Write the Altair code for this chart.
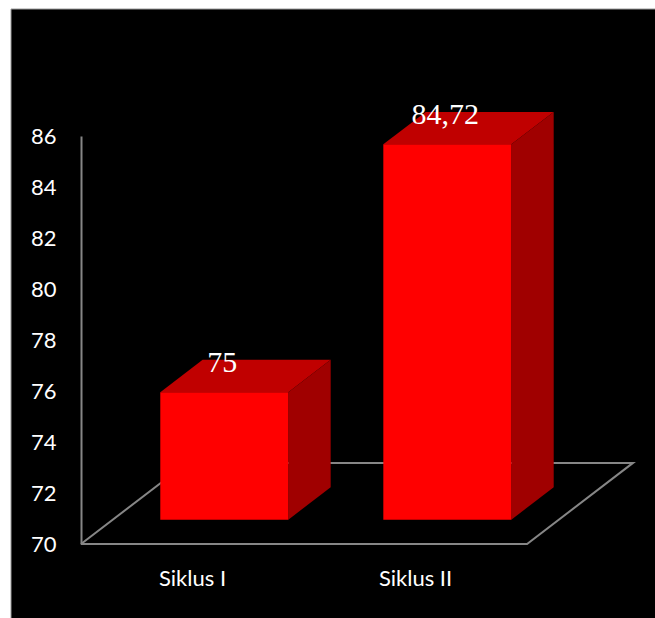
import altair as alt
import pandas as pd

# Data
categories = ["Siklus I", "Siklus II"]
values = [75, 84.72]
y_ticks = [70, 72, 74, 76, 78, 80, 82, 84, 86]

# Pseudo-3D geometry (in data units)
BASE = 70
Y_TOP = 86
X_MAX = 2.475          # one unit per category slot, plus room for the depth
BAR_W = 0.574          # bar width as a share of a slot
DEPTH_X = 0.475        # floor depth, horizontal component
DEPTH_Y = 3.18         # floor depth, vertical component
T_FRONT = 0.30         # bar front plane, as a share of the floor depth
T_BACK = 0.70          # bar back plane

FRONT = "#FF0000"
TOP = "#C00000"
SIDE = "#A00000"
LINE = "#868686"

front_rows, top_rows, side_rows = [], [], []
for i, (cat, v) in enumerate(zip(categories, values)):
    xl = i + 0.5 - BAR_W / 2
    xr = i + 0.5 + BAR_W / 2
    fx, fy = T_FRONT * DEPTH_X, T_FRONT * DEPTH_Y
    bx, by = T_BACK * DEPTH_X, T_BACK * DEPTH_Y
    label = f"{v:g}".replace(".", ",")
    front_rows.append(dict(cat=cat, x0=xl + fx, x1=xr + fx, y0=BASE + fy,
                           y1=v + fy, xc=i + 0.5 + fx, label=label,
                           slot=i + 0.5))
    # top face as a vertical band between its lower and upper edges
    top_rows += [
        dict(cat=cat, x=xl + fx, y=v + fy, y2=v + fy),
        dict(cat=cat, x=xl + bx, y=v + by, y2=v + fy),
        dict(cat=cat, x=xr + fx, y=v + by, y2=v + fy),
        dict(cat=cat, x=xr + bx, y=v + by, y2=v + by),
    ]
    # right side face
    side_rows += [
        dict(cat=cat, x=xr + fx, y=v + fy, y2=BASE + fy),
        dict(cat=cat, x=xr + bx, y=v + by, y2=BASE + by),
    ]

n = len(categories)
floor_df = pd.DataFrame({
    "x": [0, n, n + DEPTH_X, DEPTH_X, 0],
    "y": [BASE, BASE, BASE + DEPTH_Y, BASE + DEPTH_Y, BASE],
    "k": [0, 1, 2, 3, 4],
})
front_df = pd.DataFrame(front_rows)
top_df = pd.DataFrame(top_rows)
side_df = pd.DataFrame(side_rows)

xs = alt.Scale(domain=[0, X_MAX], nice=False, zero=False)
ys = alt.Scale(domain=[BASE, Y_TOP], nice=False, zero=False)
yax = alt.Axis(values=y_ticks, ticks=False, grid=False, title=None,
               labelColor="white", labelFont="Lato", labelFontSize=22,
               labelPadding=25, domainColor=LINE, domainWidth=2, zindex=1)

background = alt.Chart(pd.DataFrame({"a": [0]})).mark_rect(
    fill="black", stroke="#9a9a9a", strokeWidth=1
).encode(x=alt.value(-70), x2=alt.value(590), y=alt.value(-127),
         y2=alt.value(495))

floor = alt.Chart(floor_df).mark_line(color=LINE, strokeWidth=2).encode(
    x=alt.X("x:Q", scale=xs, axis=None),
    y=alt.Y("y:Q", scale=ys, axis=yax),
    order="k:Q",
)

tops = alt.Chart(top_df).mark_area(orient="vertical", color=TOP).encode(
    x=alt.X("x:Q", scale=xs, axis=None),
    y=alt.Y("y:Q", scale=ys, axis=yax, stack=None),
    y2="y2:Q",
    detail="cat:N",
)

sides = alt.Chart(side_df).mark_area(orient="vertical", color=SIDE).encode(
    x=alt.X("x:Q", scale=xs, axis=None),
    y=alt.Y("y:Q", scale=ys, axis=yax, stack=None),
    y2="y2:Q",
    detail="cat:N",
)

fronts = alt.Chart(front_df).mark_rect(color=FRONT).encode(
    x=alt.X("x0:Q", scale=xs, axis=None),
    x2="x1:Q",
    y=alt.Y("y0:Q", scale=ys, axis=yax),
    y2="y1:Q",
)

value_labels = alt.Chart(front_df).mark_text(
    font="Liberation Serif", fontSize=30, color="white",
    baseline="alphabetic", dy=-20, dx=-2
).encode(
    x=alt.X("xc:Q", scale=xs, axis=None),
    y=alt.Y("y1:Q", scale=ys, axis=yax),
    text="label:N",
)

cat_labels = alt.Chart(front_df).mark_text(
    font="Lato", fontSize=22, color="white", baseline="middle"
).encode(
    x=alt.X("slot:Q", scale=xs, axis=None),
    y=alt.value(443),
    text="cat:N",
)

chart = alt.layer(
    background, floor, tops, sides, fronts, value_labels, cat_labels
).properties(
    width=552,
    height=408,
    padding={"left": 81, "top": 136, "right": 22, "bottom": 74},
    autosize=alt.AutoSizeParams(type="none"),
    background="white",
).configure_view(stroke=None)

chart.save("out.html", embed_options={"renderer": "svg", "actions": False})
